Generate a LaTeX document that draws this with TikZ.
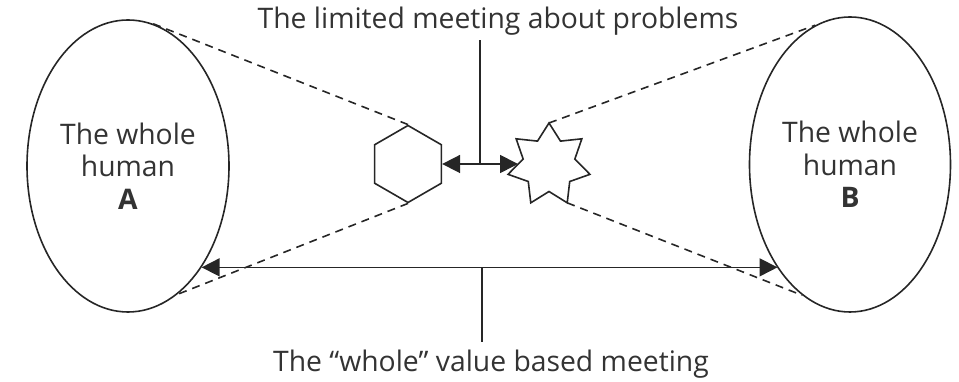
\documentclass[tikz,border=0pt]{standalone}
\usepackage{fontspec}
\setmainfont{Open Sans}
\usetikzlibrary{shapes.geometric,arrows.meta,calc}
\begin{document}
\begin{tikzpicture}[x=1pt,y=1pt,
  lbl/.style={font=\fontsize{28.3}{32.5}\selectfont, text=black!80, align=center, inner sep=0pt},
  person/.style={draw=black!85, line width=1.6pt, ellipse, inner sep=0pt, lbl},
  solidline/.style={draw=black!85, line width=1.7pt},
  dashline/.style={draw=black!85, line width=1.6pt, dash pattern=on 8pt off 6pt},
  biarrow/.style={solidline, {Triangle[length=18pt,width=18pt]}-{Triangle[length=18pt,width=18pt]}},
  shapeline/.style={draw=black!85, line width=1.6pt, inner sep=0pt, fill=white}
]
\useasboundingbox (0,0) rectangle (959,382);
\node[person, minimum width=202pt, minimum height=292pt] (A) at (128,216) {The whole\\human\\\textbf{A}};
\node[person, minimum width=201pt, minimum height=295pt] (B) at (850,217.5) {The whole\\human\\\textbf{B}};
\node[shapeline, regular polygon, regular polygon sides=6, shape border rotate=30, minimum size=77pt] (hex) at (408,218) {};
% seven-pointed star
\coordinate (sc) at (549,217);
\draw[shapeline] (sc) ++(90:42)
  \foreach \k in {0,...,6} { -- ($(sc)+({90+\k*360/7}:42)$) -- ($(sc)+({90+\k*360/7+180/7}:26.5)$) } -- cycle;
\coordinate (sttop) at ($(sc)+(90:42)$);
\coordinate (stlr) at ($(sc)+({90+4*360/7}:42)$);
\coordinate (stw) at ($(sc)+(-31,1)$);
\node[lbl, anchor=base] (top) at (498,353) {The limited meeting about problems};
\node[lbl, anchor=base] (bot) at (491,10) {The “whole” value based meeting};
% dashed projection lines
\draw[dashline] (hex.90) -- (A.80.5);
\draw[dashline] (hex.270) -- (A.-69.2);
\draw[dashline] (sttop) -- (B.104);
\draw[dashline] (stlr) -- (B.250.5);
% arrows
\draw[biarrow] (hex.east) -- (stw);
\coordinate (m1) at ($(hex.east)!0.5!(stw)$);
\draw[solidline] (m1) -- ($(m1 |- top.south)+(0,-4)$);
\coordinate (la) at (A.-54.1);
\coordinate (rb) at (B.235);
\draw[biarrow] (la) -- (rb |- la);
\coordinate (m2) at (482,0 |- la);
\draw[solidline] (m2) -- ($(m2 |- bot.north)+(0,8)$);
\end{tikzpicture}
\end{document}
